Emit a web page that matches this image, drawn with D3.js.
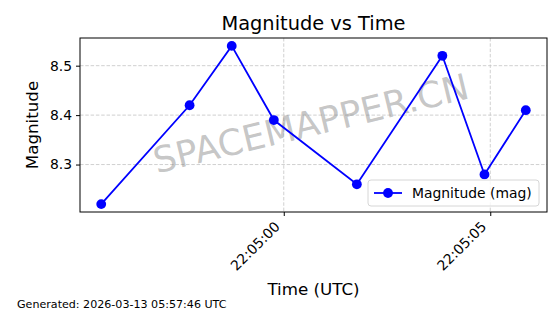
<!DOCTYPE html>
<html>
<head>
<meta charset="utf-8">
<script src="https://cdn.jsdelivr.net/npm/d3@7"></script>
<style>
  body { margin: 0; background: #fff; }
  text { font-family: "DejaVu Sans", sans-serif; }
</style>
</head>
<body>
<div class="chart"></div>
<script>
var svgWidth = 560;
var svgHeight = 314;

// data
var times = ["22:04:55.58", "22:04:57.72", "22:04:58.74", "22:04:59.76",
             "22:05:01.77", "22:05:03.84", "22:05:04.86", "22:05:05.86"];
var magnitudes = [8.22, 8.42, 8.54, 8.39, 8.26, 8.52, 8.28, 8.41];
var yTicks = [8.3, 8.4, 8.5];
var xTicks = ["22:05:00", "22:05:05"];

var margin = { top: 38, right: 13, bottom: 102, left: 80 };
var width = svgWidth - margin.left - margin.right;
var height = svgHeight - margin.top - margin.bottom;

var parseTime = function(s) {
  var p = s.split(":");
  return new Date(Date.UTC(2026, 2, 12, +p[0], +p[1], 0) + (+p[2]) * 1000);
};

var data = times.map(function(t, i) {
  return { t: parseTime(t), mag: magnitudes[i] };
});

var svg = d3.select(".chart")
  .append("svg")
  .attr("width", svgWidth)
  .attr("height", svgHeight);

var chartGroup = svg.append("g")
  .attr("transform", `translate(${margin.left}, ${margin.top})`);

// matplotlib-style 5% padding
var tExt = d3.extent(data, d => +d.t);
var tPad = (tExt[1] - tExt[0]) * 0.05;
var xScale = d3.scaleUtc()
  .domain([new Date(tExt[0] - tPad), new Date(tExt[1] + tPad)])
  .range([0, width]);

var mExt = d3.extent(magnitudes);
var mPad = (mExt[1] - mExt[0]) * 0.05;
var yScale = d3.scaleLinear()
  .domain([mExt[0] - mPad, mExt[1] + mPad])
  .range([height, 0]);

var xTickDates = xTicks.map(parseTime);

// grid
chartGroup.append("g")
  .selectAll("line.gy")
  .data(yTicks)
  .enter()
  .append("line")
  .attr("x1", 0).attr("x2", width)
  .attr("y1", d => yScale(d)).attr("y2", d => yScale(d))
  .attr("stroke", "#c4c4c4")
  .attr("stroke-width", 0.8)
  .attr("stroke-dasharray", "3.5,1.8");

chartGroup.append("g")
  .selectAll("line.gx")
  .data(xTickDates)
  .enter()
  .append("line")
  .attr("x1", d => xScale(d)).attr("x2", d => xScale(d))
  .attr("y1", 0).attr("y2", height)
  .attr("stroke", "#c4c4c4")
  .attr("stroke-width", 0.8)
  .attr("stroke-dasharray", "3.5,1.8");

// watermark
chartGroup.append("text")
  .attr("transform", `translate(${width / 2 - 2}, ${height / 2 + 1}) rotate(-13.5)`)
  .attr("text-anchor", "middle")
  .attr("dominant-baseline", "middle")
  .attr("fill", "#808080")
  .attr("fill-opacity", 0.45)
  .style("font-size", "36px")
  .text("SPACEMAPPER.CN");

// axes
var leftAxis = d3.axisLeft(yScale)
  .tickValues(yTicks)
  .tickFormat(d3.format(".1f"))
  .tickSize(4)
  .tickPadding(4);

var bottomAxis = d3.axisBottom(xScale)
  .tickValues(xTickDates)
  .tickFormat(d3.utcFormat("%H:%M:%S"))
  .tickSize(4)
  .tickPadding(3);

var yAxis = chartGroup.append("g").call(leftAxis);
yAxis.select(".domain").remove();
yAxis.selectAll("text").style("font-size", "13.9px").attr("fill", "#000");

var xAxis = chartGroup.append("g")
  .attr("transform", `translate(0, ${height})`)
  .call(bottomAxis);
xAxis.select(".domain").remove();
xAxis.selectAll("text")
  .style("font-size", "13.9px")
  .attr("fill", "#000")
  .attr("text-anchor", "end")
  .attr("dy", "0.35em")
  .attr("transform", "translate(-7, 12) rotate(-45)")
  .attr("y", 0)
  .attr("x", 0);

// frame
chartGroup.append("rect")
  .attr("width", width)
  .attr("height", height)
  .attr("fill", "none")
  .attr("stroke", "#000")
  .attr("stroke-width", 1);

// line + markers
var line = d3.line()
  .x(d => xScale(d.t))
  .y(d => yScale(d.mag));

chartGroup.append("path")
  .datum(data)
  .attr("d", line)
  .attr("fill", "none")
  .attr("stroke", "#0000ff")
  .attr("stroke-width", 1.8);

chartGroup.selectAll("circle.pt")
  .data(data)
  .enter()
  .append("circle")
  .attr("cx", d => xScale(d.t))
  .attr("cy", d => yScale(d.mag))
  .attr("r", 4.9)
  .attr("fill", "#0000ff");

// legend
var legend = chartGroup.append("g")
  .attr("transform", `translate(${width - 179}, ${height - 32})`);
legend.append("rect")
  .attr("width", 171)
  .attr("height", 26)
  .attr("rx", 3)
  .attr("fill", "#fff")
  .attr("fill-opacity", 0.8)
  .attr("stroke", "#d6d6d6");
legend.append("line")
  .attr("x1", 6).attr("x2", 34)
  .attr("y1", 13).attr("y2", 13)
  .attr("stroke", "#0000ff")
  .attr("stroke-width", 1.8);
legend.append("circle")
  .attr("cx", 20).attr("cy", 13).attr("r", 4.9)
  .attr("fill", "#0000ff");
legend.append("text")
  .attr("x", 44).attr("y", 13)
  .attr("dominant-baseline", "central")
  .style("font-size", "13.9px")
  .text("Magnitude (mag)");

// title and labels
svg.append("text")
  .attr("x", margin.left + width / 2)
  .attr("y", 30)
  .attr("text-anchor", "middle")
  .style("font-size", "19.4px")
  .text("Magnitude vs Time");

svg.append("text")
  .attr("transform", "rotate(-90)")
  .attr("x", -(margin.top + height / 2))
  .attr("y", 38)
  .attr("text-anchor", "middle")
  .style("font-size", "16.7px")
  .text("Magnitude");

svg.append("text")
  .attr("x", margin.left + width / 2)
  .attr("y", 295)
  .attr("text-anchor", "middle")
  .style("font-size", "16.7px")
  .text("Time (UTC)");

svg.append("text")
  .attr("x", 17)
  .attr("y", 308)
  .style("font-size", "11.1px")
  .text("Generated: 2026-03-13 05:57:46 UTC");
</script>
</body>
</html>
